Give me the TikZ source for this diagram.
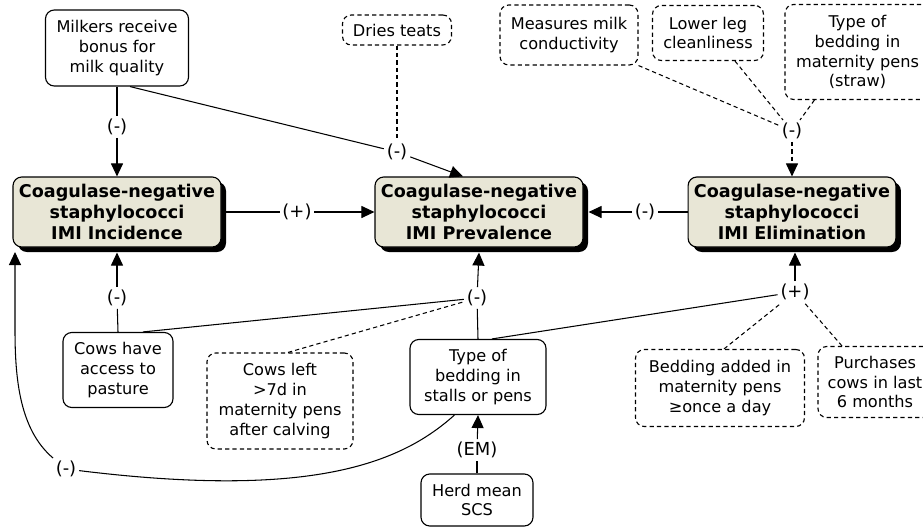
\documentclass[tikz,border=0pt]{standalone}
\usepackage{fontspec}
\setmainfont{DejaVu Sans}
\usepackage{xcolor}
\usepackage{tikz}
\usetikzlibrary{arrows.meta,shadows}
\definecolor{outbeige}{HTML}{E8E6D6}
\tikzset{
    factor/.style={draw, line width=0.65pt, rounded corners=5pt, fill=white, align=center, inner sep=2pt},
    dfactor/.style={factor, dash pattern=on 2.4pt off 1.8pt},
    outcome/.style={draw, line width=0.65pt, rounded corners=5pt, fill=outbeige, align=center, font=\bfseries,
        minimum width=4.16cm, minimum height=1.4cm,
        general shadow={fill=black, shadow xshift=0.1cm, shadow yshift=-0.1cm}},
    sign/.style={inner sep=1.5pt, font=\fontsize{10.2}{12}\selectfont},
    link/.style={line width=0.6pt},
    dlink/.style={link, dash pattern=on 2.4pt off 1.8pt},
    arr/.style={-{Triangle[length=0.26cm, width=0.24cm]}}
}
\begin{document}
\begin{tikzpicture}[font=\fontsize{9.2}{11.3}\selectfont]
    \useasboundingbox (0, 0) rectangle (18.46, 10.58);

    % Three outcomes
    \node[outcome] (inc) at (2.34, 6.34) {Coagulase-negative\\staphylococci\\IMI Incidence};
    \node[outcome] (prev) at (9.58, 6.34) {Coagulase-negative\\staphylococci\\IMI Prevalence};
    \node[outcome, minimum width=4.1cm] (elim) at (15.84, 6.34) {Coagulase-negative\\staphylococci\\IMI Elimination};
    \coordinate (elimfoot) at ([yshift=-0.1cm]elim.south);

    % Factors on top
    \node[factor, minimum width=2.86cm, minimum height=1.52cm] (milk) at (2.34, 9.62) {Milkers receive\\bonus for\\milk quality};
    \node[dfactor, minimum width=2.18cm, minimum height=0.6cm] (dries) at (7.94, 9.98) {Dries teats};
    \node[dfactor, minimum width=2.76cm, minimum height=1.2cm] (meas) at (11.38, 9.88) {Measures milk\\conductivity};
    \node[dfactor, minimum width=2.22cm, minimum height=1.1cm] (leg) at (14.16, 9.92) {Lower leg\\cleanliness};
    \node[dfactor, minimum width=2.9cm, minimum height=1.9cm] (matbed) at (17.15, 9.54) {Type of\\bedding in\\maternity pens\\(straw)};

    % Factors at the bottom
    \node[factor, minimum width=2.2cm, minimum height=1.5cm] (pasture) at (2.36, 3.18) {Cows have\\access to\\pasture};
    \node[dfactor, minimum width=2.92cm, minimum height=1.92cm] (left) at (5.6, 2.56) {Cows left\\>7d in\\maternity pens\\after calving};
    \node[factor, minimum width=2.72cm, minimum height=1.5cm] (stalls) at (9.56, 3.04) {Type of\\bedding in\\stalls or pens};
    \node[factor, minimum width=2.24cm, minimum height=1.04cm] (scs) at (9.54, 0.58) {Herd mean\\SCS};
    \node[dfactor, minimum width=3.38cm, minimum height=1.54cm] (added) at (14.4, 2.82) {Bedding added in\\maternity pens\\≥once a day};
    \node[dfactor, minimum width=2.28cm, minimum height=1.42cm] (purch) at (17.5, 2.94) {Purchases\\cows in last\\6 months};

    % Signs
    \node[sign] (s1) at (2.34, 8.04) {(-)};
    \node[sign] (s2) at (7.94, 7.54) {(-)};
    \node[sign] (s3) at (5.94, 6.34) {(+)};
    \node[sign] (s4) at (12.9, 6.34) {(-)};
    \node[sign] (s5) at (15.84, 7.96) {(-)};
    \node[sign] (s6) at (2.34, 4.62) {(-)};
    \node[sign] (s7) at (9.54, 4.62) {(-)};
    \node[sign] (s8) at (15.9, 4.74) {(+)};
    \node[sign] (s9) at (9.54, 1.58) {(EM)};
    \node[sign] (s10) at (1.32, 1.2) {(-)};

    % Links to incidence and prevalence
    \draw[link] (milk.south) -- (s1);
    \draw[link, arr] (s1) -- (inc.north);
    \draw[link] ([xshift=0.26cm]milk.south) -- (s2);
    \draw[link, arr] (s2) -- ([xshift=-0.32cm]prev.north);
    \draw[dlink] (dries.south) -- (s2);
    \draw[link] (inc.east) -- (s3);
    \draw[link, arr] (s3) -- (prev.west);
    \draw[link] (elim.west) -- (s4);
    \draw[link, arr] (s4) -- ([xshift=0.1cm]prev.east);

    % Links to elimination
    \draw[dlink] (meas.south east) -- (s5);
    \draw[dlink] ([xshift=0.54cm]leg.south) -- (s5);
    \draw[dlink] ([xshift=0.6cm]matbed.south west) -- (s5);
    \draw[dlink, arr] (s5) -- (elim.north);

    % Links from below
    \draw[link] (pasture.north) -- (s6);
    \draw[link, arr] (s6) -- ([yshift=-0.1cm]inc.south);
    \draw[link] ([xshift=0.5cm]pasture.north) -- (s7);
    \draw[dlink] ([xshift=0.16cm]left.north) -- (s7);
    \draw[link] (stalls.north) -- (s7);
    \draw[link, arr] (s7) -- ([yshift=-0.1cm]prev.south);
    \draw[link] ([xshift=0.28cm]stalls.north) -- (s8);
    \draw[dlink] ([xshift=0.08cm]added.north) -- (s8);
    \draw[dlink] ([xshift=-0.66cm]purch.north) -- (s8);
    \draw[link, arr] (s8) -- (s8 |- elimfoot);
    \draw[link] (scs.north) -- (s9);
    \draw[link, arr] (s9) -- (stalls.south);

    % Curved link to incidence
    \draw[link] ([xshift=0.9cm]stalls.south west) .. controls (8.0, 1.3) and (6.2, 0.6) .. (s10);
    \draw[link, arr] (s10) .. controls (0.4, 1.98) and (0.3, 2.98) .. (0.3, 3.98) -- (0.3, 5.54);
\end{tikzpicture}
\end{document}
